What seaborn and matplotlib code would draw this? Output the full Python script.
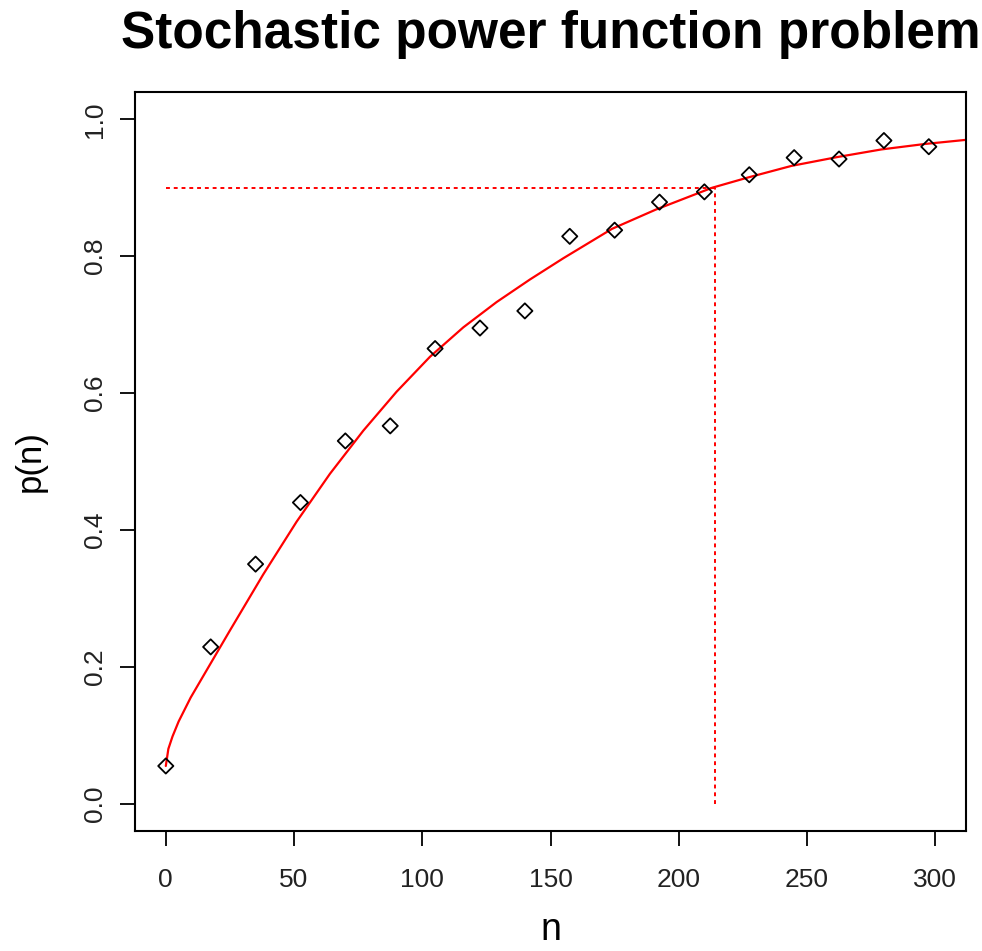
import matplotlib
matplotlib.use("Agg")
import matplotlib.pyplot as plt
import seaborn as sns
import pandas as pd

# Simulated power at each sample size
n_obs = [0, 17.5, 35, 52.5, 70, 87.5, 105, 122.5, 140, 157.5,
         175, 192.5, 210, 227.5, 245, 262.5, 280, 297.5]
p_obs = [0.055, 0.229, 0.350, 0.440, 0.530, 0.552, 0.665, 0.695, 0.720, 0.829,
         0.838, 0.879, 0.894, 0.919, 0.944, 0.942, 0.969, 0.960]

# Fitted power curve
n_fit = [0, 1, 2.6, 5, 9.7, 17.5, 25, 38, 51, 64, 77, 90, 103, 116, 129, 142,
         155, 174, 191, 213, 227, 244, 262, 279, 296, 312]
p_fit = [0.055, 0.080, 0.098, 0.120, 0.155, 0.205, 0.253, 0.335, 0.412, 0.482,
         0.545, 0.602, 0.653, 0.696, 0.733, 0.766, 0.797, 0.840, 0.868, 0.900,
         0.915, 0.932, 0.945, 0.956, 0.964, 0.970]

# Target power and the sample size that reaches it
target_power = 0.9
n_target = 214

x_ticks = [0, 50, 100, 150, 200, 250, 300]
y_ticks = [0.0, 0.2, 0.4, 0.6, 0.8, 1.0]
y_tick_labels = ["0.0", "0.2", "0.4", "0.6", "0.8", "1.0"]

sns.set_style("white")
plt.rcParams["font.family"] = ["Liberation Sans", "DejaVu Sans"]

obs = pd.DataFrame({"n": n_obs, "p": p_obs})
fit = pd.DataFrame({"n": n_fit, "p": p_fit})

fig = plt.figure(figsize=(9.82, 9.51), dpi=100)
ax = fig.add_axes([0.1375, 0.1262, 0.8462, 0.7771])

sns.scatterplot(data=obs, x="n", y="p", ax=ax, marker="D", s=60,
                facecolor="none", edgecolor="black", linewidth=1.3, zorder=3)
sns.lineplot(data=fit, x="n", y="p", ax=ax, color="red", linewidth=1.6,
             sort=False, estimator=None, zorder=2)

ax.plot([0, n_target], [target_power, target_power], color="red",
        linewidth=1.4, linestyle=(0, (2, 2)))
ax.plot([n_target, n_target], [0, target_power], color="red",
        linewidth=1.4, linestyle=(0, (2, 2)))

ax.set_xlim(-12, 312)
ax.set_ylim(-0.04, 1.04)
ax.set_xticks(x_ticks)
ax.set_xticklabels([str(v) for v in x_ticks])
ax.set_yticks(y_ticks)
ax.set_yticklabels(y_tick_labels)

for s in ax.spines.values():
    s.set_visible(True)
    s.set_color("black")
    s.set_linewidth(1.5)

ax.tick_params(axis="both", which="major", bottom=True, left=True,
               direction="out", length=11, width=1.3,
               colors="black", labelcolor="#222222", labelsize=19)
ax.tick_params(axis="x", pad=16)
ax.tick_params(axis="y", pad=9)
for lab in ax.get_yticklabels():
    lab.set_rotation(90)
    lab.set_va("center")

ax.set_xlabel("n", fontsize=27, labelpad=14, color="black")
ax.set_ylabel("p(n)", fontsize=25, labelpad=26, color="black")
ax.set_title("Stochastic power function problem", fontsize=37,
             fontweight="bold", pad=32, color="black")

fig.savefig("out.png", dpi=100)
